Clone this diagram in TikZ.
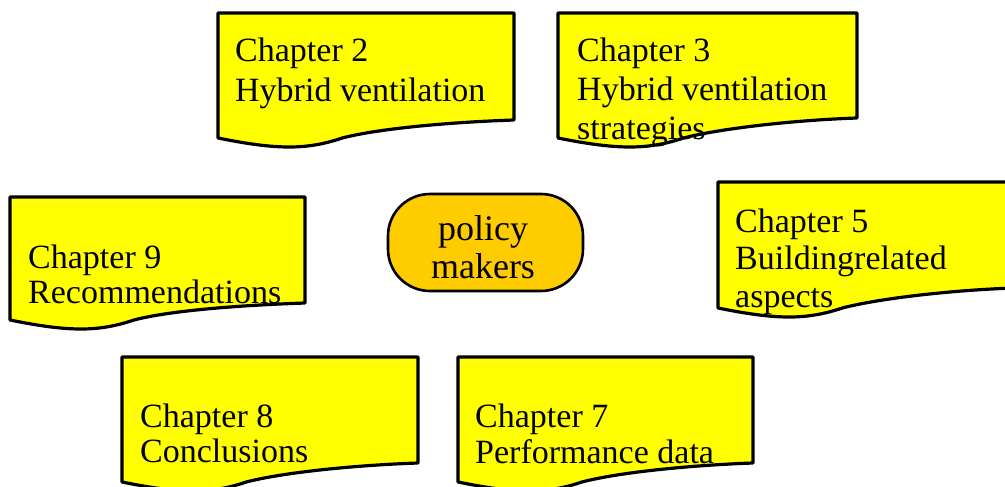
\documentclass[tikz,border=0pt]{standalone}
\usepackage{fontspec}
\setmainfont{Liberation Serif}
\definecolor{docyellow}{HTML}{FFFF00}
\definecolor{pmorange}{HTML}{FFCC00}
\newcommand\docshapepath[5]{% L, T, R, B1 (left bottom), B2 (right bottom)
  \path[docshape] (#1,#2) -- (#3,#2) -- (#3,#5)
    .. controls ({#1+0.8*(#3-#1)},{#5+2}) and ({#1+0.55*(#3-#1)},{#4-10}) .. ({#1+0.42*(#3-#1)},#4)
    .. controls ({#1+0.3*(#3-#1)},{#4+12}) and ({#1+0.2*(#3-#1)},{#4+12}) .. (#1,#4) -- cycle;}
\begin{document}
\begin{tikzpicture}[x=1pt,y=-1pt,
  docshape/.style={draw=black, fill=docyellow, line width=3.2pt, line join=round},
  chtext/.style={inner sep=0pt, anchor=base west, align=left},
  pmshape/.style={draw=black, fill=pmorange, line width=2.6pt, rounded corners=42pt, minimum width=195pt, minimum height=97pt, inner sep=0pt},
  pmtext/.style={inner sep=0pt, anchor=base}]
\useasboundingbox (0,0) rectangle (1005,487);
\begin{scope}
\clip (0,0) rectangle (1005,487);
% Chapter 2
\docshapepath{218}{13}{514}{138}{120}
\node[chtext] (ch2) at (235,62) {\fontsize{34}{40}\selectfont\begin{tabular}[t]{@{}l@{}}Chapter 2\\Hybrid ventilation\end{tabular}};
% Chapter 3
\docshapepath{558}{13}{857}{138}{118}
\node[chtext] (ch3) at (577,62) {\fontsize{34}{39}\selectfont\begin{tabular}[t]{@{}l@{}}Chapter 3\\Hybrid ventilation\\strategies\end{tabular}};
% Chapter 9
\docshapepath{10}{197}{305}{320}{303}
\node[chtext] (ch9) at (28,268) {\fontsize{34}{35}\selectfont\begin{tabular}[t]{@{}l@{}}Chapter 9\\Recommendations\end{tabular}};
% Chapter 5
\docshapepath{718}{182}{1014}{308}{288}
\node[chtext] (ch5) at (735,232) {\fontsize{34}{37.5}\selectfont\begin{tabular}[t]{@{}l@{}}Chapter 5\\Buildingrelated\\aspects\end{tabular}};
% Chapter 8
\docshapepath{122}{357}{418}{482}{463}
\node[chtext] (ch8) at (140,427) {\fontsize{34}{35}\selectfont\begin{tabular}[t]{@{}l@{}}Chapter 8\\Conclusions\end{tabular}};
% Chapter 7
\docshapepath{458}{357}{753}{482}{463}
\node[chtext] (ch7) at (475,427) {\fontsize{34}{36}\selectfont\begin{tabular}[t]{@{}l@{}}Chapter 7\\Performance data\end{tabular}};
% policy makers
\node[pmshape] (pm) at (485.5,242.5) {};
\node[pmtext] (pmt) at (483,240) {\fontsize{36}{38}\selectfont\begin{tabular}[t]{@{}c@{}}policy\\makers\end{tabular}};
\end{scope}
\end{tikzpicture}
\end{document}
